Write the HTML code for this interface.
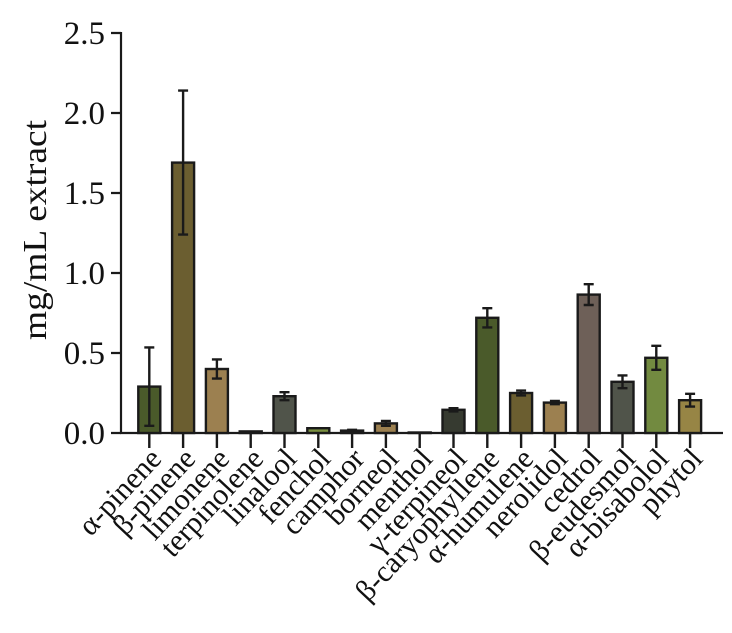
<!DOCTYPE html>
<html><head><meta charset="utf-8"><style>body{margin:0;background:#fff}</style></head><body>
<svg width="732" height="628" xmlns="http://www.w3.org/2000/svg" font-family="Liberation Serif, serif">
<g stroke="#1a1a1a" stroke-width="2.2" fill="none">
<line x1="121" y1="32" x2="121" y2="434"/>
<line x1="120" y1="433" x2="723" y2="433"/>
<path d="M111 433H121M111 353H121M111 273H121M111 193H121M111 113H121M111 33H121"/>
</g>
<g font-size="33" text-anchor="end" fill="#111">
<text x="105" y="444">0.0</text><text x="105" y="364">0.5</text><text x="105" y="284">1.0</text>
<text x="105" y="204">1.5</text><text x="105" y="124">2.0</text><text x="105" y="44">2.5</text>
</g>
<text transform="translate(46,230) rotate(-90)" font-size="34" text-anchor="middle" textLength="220" lengthAdjust="spacingAndGlyphs" fill="#111">mg/mL extract</text>
<g stroke="#1a1a1a" stroke-width="2.4">
<rect x="138.3" y="386.6" width="22" height="46.4" fill="#4a5a2a"/>
<rect x="172.1" y="162.6" width="22" height="270.4" fill="#6b5e30"/>
<rect x="205.9" y="369" width="22" height="64" fill="#9c8050"/>
<rect x="239.7" y="431.4" width="22" height="1.6" fill="#3a3a30"/>
<rect x="273.5" y="396.2" width="22" height="36.8" fill="#50544a"/>
<rect x="307.3" y="428.2" width="22" height="4.8" fill="#7a9040"/>
<rect x="341.1" y="430.6" width="22" height="2.4" fill="#6b5e30"/>
<rect x="374.9" y="423.4" width="22" height="9.6" fill="#9c8050"/>
<rect x="408.7" y="432.5" width="22" height="0.5" fill="#3a3a30"/>
<rect x="442.5" y="409.8" width="22" height="23.2" fill="#363a30"/>
<rect x="476.3" y="317.8" width="22" height="115.2" fill="#4a5a2a"/>
<rect x="510.1" y="393" width="22" height="40" fill="#6b5e30"/>
<rect x="543.9" y="402.6" width="22" height="30.4" fill="#9c8050"/>
<rect x="577.7" y="294.6" width="22" height="138.4" fill="#6e6058"/>
<rect x="611.5" y="381.8" width="22" height="51.2" fill="#50544a"/>
<rect x="645.3" y="357.8" width="22" height="75.2" fill="#728a40"/>
<rect x="679.1" y="400.2" width="22" height="32.8" fill="#978545"/>
<path fill="none" d="
M149.3 347.4V425.8M144.3 347.4h10M144.3 425.8h10
M183.1 90.6V234.6M178.1 90.6h10M178.1 234.6h10
M216.9 359.4V378.6M211.9 359.4h10M211.9 378.6h10
M284.5 392.2V400.2M279.5 392.2h10M279.5 400.2h10
M352.1 429.8V431.4M347.1 429.8h10
M385.9 421V425.8M380.9 421h10M380.9 425.8h10
M453.5 408.2V411.4M448.5 408.2h10M448.5 411.4h10
M487.3 308.2V327.4M482.3 308.2h10M482.3 327.4h10
M521.1 390.6V395.4M516.1 390.6h10M516.1 395.4h10
M554.9 401V404.2M549.9 401h10M549.9 404.2h10
M588.7 284.2V305M583.7 284.2h10M583.7 305h10
M622.5 375.4V388.2M617.5 375.4h10M617.5 388.2h10
M656.3 345.8V369.8M651.3 345.8h10M651.3 369.8h10
M690.1 393.8V406.6M685.1 393.8h10M685.1 406.6h10
M149.3 433v15M183.1 433v15M216.9 433v15M250.7 433v15M284.5 433v15M318.3 433v15M352.1 433v15M385.9 433v15M419.7 433v15M453.5 433v15M487.3 433v15M521.1 433v15M554.9 433v15M588.7 433v15M622.5 433v15M656.3 433v15M690.1 433v15"/>
</g>
<g font-size="30" fill="#111" text-anchor="end">
<text transform="translate(163,460) rotate(-47)">α-pinene</text>
<text transform="translate(197,460) rotate(-47)">β-pinene</text>
<text transform="translate(231,460) rotate(-47)">limonene</text>
<text transform="translate(265,460) rotate(-47)">terpinolene</text>
<text transform="translate(298,460) rotate(-47)">linalool</text>
<text transform="translate(332,460) rotate(-47)">fenchol</text>
<text transform="translate(366,460) rotate(-47)">camphor</text>
<text transform="translate(400,460) rotate(-47)">borneol</text>
<text transform="translate(434,460) rotate(-47)">menthol</text>
<text transform="translate(468,460) rotate(-47)">γ-terpineol</text>
<text transform="translate(501,460) rotate(-47)">β-caryophyllene</text>
<text transform="translate(535,460) rotate(-47)">α-humulene</text>
<text transform="translate(569,460) rotate(-47)">nerolidol</text>
<text transform="translate(603,460) rotate(-47)">cedrol</text>
<text transform="translate(637,460) rotate(-47)">β-eudesmol</text>
<text transform="translate(670,460) rotate(-47)">α-bisabolol</text>
<text transform="translate(704,460) rotate(-47)">phytol</text>
</g>
</svg>
</body></html>
